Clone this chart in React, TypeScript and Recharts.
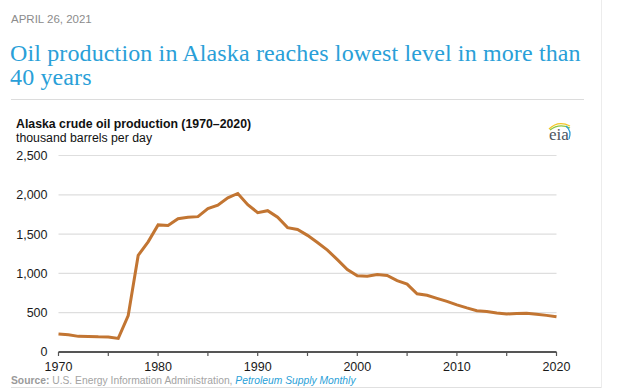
import { LineChart, Line, XAxis, YAxis, CartesianGrid } from 'recharts';

// Alaska crude oil production, thousand barrels per day
const years = [
  1970, 1971, 1972, 1973, 1974, 1975, 1976, 1977, 1978, 1979,
  1980, 1981, 1982, 1983, 1984, 1985, 1986, 1987, 1988, 1989,
  1990, 1991, 1992, 1993, 1994, 1995, 1996, 1997, 1998, 1999,
  2000, 2001, 2002, 2003, 2004, 2005, 2006, 2007, 2008, 2009,
  2010, 2011, 2012, 2013, 2014, 2015, 2016, 2017, 2018, 2019, 2020,
];
const production = [
  229, 218, 199, 198, 193, 191, 173, 464, 1229, 1401,
  1617, 1609, 1696, 1714, 1722, 1825, 1867, 1962, 2017, 1874,
  1773, 1798, 1714, 1582, 1559, 1484, 1393, 1296, 1175, 1050,
  970, 963, 985, 974, 908, 864, 741, 722, 683, 645,
  600, 561, 526, 515, 496, 483, 490, 494, 479, 466, 448,
];
const xTicks = [1970, 1975, 1980, 1985, 1990, 1995, 2000, 2005, 2010, 2015, 2020];
const yTicks = [0, 500, 1000, 1500, 2000, 2500];

const data = years.map((year, i) => ({ year, value: production[i] }));

const SANS = '"Liberation Sans", Arial, Helvetica, sans-serif';
const SERIF = '"Liberation Serif", "Times New Roman", serif';

function YearTick(props: any) {
  const { x, y, payload } = props;
  if (payload.value % 10 !== 0) return null;
  return (
    <text x={x} y={y} dy="0.71em" textAnchor="middle" fill="#1a1a1a" fontSize={12.5} fontFamily={SANS}>
      {payload.value}
    </text>
  );
}

function EiaLogo() {
  return (
    <svg width={30} height={26} style={{ position: 'absolute', left: 544, top: 117 }}>
      <path d="M5 12 Q14 3 26 9" stroke="#f3c623" strokeWidth={1.3} fill="none" />
      <path d="M6 13 Q15 6 26 11" stroke="#8cc63f" strokeWidth={1.3} fill="none" />
      <path d="M22 9 Q28 14 25 22" stroke="#2a9fd8" strokeWidth={1.3} fill="none" />
      <text x={5} y={23} fontSize={17} fontFamily={SERIF} fill="#4d5560">
        eia
      </text>
    </svg>
  );
}

export default function App() {
  return (
    <div
      style={{
        position: 'absolute',
        left: 0,
        top: 0,
        width: 624,
        height: 388,
        overflow: 'hidden',
        background: '#fff',
      }}
    >
      <div style={{ position: 'absolute', left: 601, top: 0, width: 1, height: 388, background: '#ececec' }} />
      <div
        style={{
          position: 'absolute',
          left: 11,
          top: 13,
          fontFamily: SANS,
          fontSize: 11.5,
          color: '#8c8c8c',
        }}
      >
        APRIL 26, 2021
      </div>
      <div
        style={{
          position: 'absolute',
          left: 10,
          top: 41,
          fontFamily: SERIF,
          fontSize: 24,
          lineHeight: '24px',
          letterSpacing: 0.13,
          color: '#2a9fd8',
          whiteSpace: 'nowrap',
        }}
      >
        Oil production in Alaska reaches lowest level in more than
        <br />
        40 years
      </div>
      <div style={{ position: 'absolute', left: 11, top: 99, width: 573, height: 1, background: '#dcdcdc' }} />
      <div
        style={{
          position: 'absolute',
          left: 16,
          top: 117,
          fontFamily: SANS,
          fontSize: 12.3,
          fontWeight: 'bold',
          color: '#111',
        }}
      >
        Alaska crude oil production (1970–2020)
      </div>
      <div style={{ position: 'absolute', left: 16, top: 131, fontFamily: SANS, fontSize: 12.3, color: '#111' }}>
        thousand barrels per day
      </div>
      <EiaLogo />

      <div style={{ position: 'absolute', left: 0, top: 140 }}>
        <LineChart
          width={600}
          height={240}
          data={data}
          margin={{ top: 15.5, right: 43.5, left: 0, bottom: 0 }}
        >
          <CartesianGrid horizontal vertical={false} stroke="#dedede" strokeWidth={1.2} />
          <XAxis
            dataKey="year"
            type="number"
            domain={[1970, 2020]}
            ticks={xTicks}
            tick={<YearTick />}
            tickSize={4}
            tickMargin={6}
            height={28}
            stroke="#555"
            axisLine={{ stroke: '#555', strokeWidth: 2 }}
            tickLine={{ stroke: '#555', strokeWidth: 1.2 }}
            interval={0}
          />
          <YAxis
            type="number"
            domain={[0, 2500]}
            ticks={yTicks}
            width={58.5}
            axisLine={false}
            tickLine={false}
            tickSize={0}
            tickMargin={11}
            tickFormatter={(v: number) => v.toLocaleString('en-US')}
            tick={{ fill: '#1a1a1a', fontSize: 12.5, fontFamily: SANS }}
            interval={0}
          />
          <Line
            type="linear"
            dataKey="value"
            stroke="#c27532"
            strokeWidth={3}
            dot={false}
            isAnimationActive={false}
          />
        </LineChart>
      </div>

      <div
        style={{
          position: 'absolute',
          left: 11,
          top: 375,
          fontFamily: SANS,
          fontSize: 10.3,
          color: '#a3a3a3',
          whiteSpace: 'nowrap',
        }}
      >
        <span style={{ fontWeight: 'bold', color: '#9a9a9a' }}>Source:</span> U.S. Energy Information
        Administration, <span style={{ fontStyle: 'italic', color: '#2a9fd8' }}>Petroleum Supply Monthly</span>
      </div>
      <div style={{ position: 'absolute', left: 11, top: 387, width: 590, height: 1, background: '#e0e0e0' }} />
    </div>
  );
}
